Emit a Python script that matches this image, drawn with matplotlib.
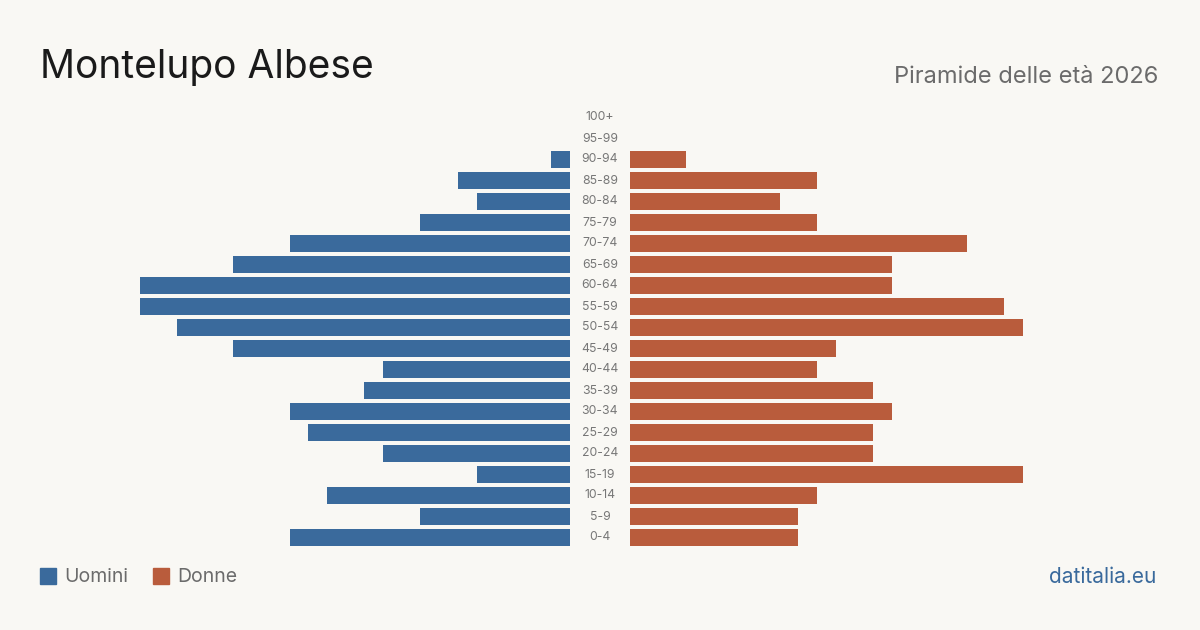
import matplotlib.pyplot as plt
from matplotlib.patches import Rectangle

plt.rcParams['font.family'] = ['Inter', 'DejaVu Sans']

age_groups = ["0-4", "5-9", "10-14", "15-19", "20-24", "25-29", "30-34", "35-39",
              "40-44", "45-49", "50-54", "55-59", "60-64", "65-69", "70-74",
              "75-79", "80-84", "85-89", "90-94", "95-99", "100+"]
uomini = [15, 8, 13, 5, 10, 14, 15, 11, 10, 18, 21, 23, 23, 18, 15, 8, 5, 6, 1, 0, 0]
donne = [9, 9, 10, 21, 13, 13, 14, 13, 10, 11, 21, 20, 14, 14, 18, 10, 8, 10, 3, 0, 0]

BG = "#f9f8f4"
BLUE = "#3a6a9c"
RED = "#b95c3c"

fig = plt.figure(figsize=(12, 6.3), dpi=100, facecolor=BG)

W, H = 1200, 630
vmax = 23
span = 430  # px per vmax
y_top, y_bot = 107, 548
bottom = (H - y_bot) / H
height = (y_bot - y_top) / H

ax_l = fig.add_axes([(570 - span) / W, bottom, span / W, height])
ax_r = fig.add_axes([630 / W, bottom, span / W, height])

pos = list(range(len(age_groups)))
ax_l.barh(pos, uomini, height=0.8, color=BLUE)
ax_r.barh(pos, donne, height=0.8, color=RED)
ax_l.set_xlim(vmax, 0)
ax_r.set_xlim(0, vmax)

for ax in (ax_l, ax_r):
    ax.set_ylim(-0.5, len(age_groups) - 0.5)
    ax.axis("off")

for p, lab in zip(pos, age_groups):
    ax_r.annotate(lab, xy=(0, p), xytext=(-30, 0), textcoords="offset pixels",
                  ha="center", va="center", fontsize=8.8, color="#777777")

fig.text(40 / W, 1 - 67 / H, "Montelupo Albese", fontsize=28, color="#1a1a1a",
         ha="left", va="center")
fig.text(1158 / W, 1 - 77 / H, "Piramide delle età 2026", fontsize=17,
         color="#6b6b6b", ha="right", va="center")

# legenda
fig.patches.append(Rectangle((40 / W, 1 - 584 / H), 16 / W, 16 / H,
                             transform=fig.transFigure, color=BLUE))
fig.text(64 / W, 1 - 577 / H, "Uomini", fontsize=14, color="#6b6b6b",
         ha="left", va="center")
fig.patches.append(Rectangle((153 / W, 1 - 584 / H), 16 / W, 16 / H,
                             transform=fig.transFigure, color=RED))
fig.text(177 / W, 1 - 577 / H, "Donne", fontsize=14, color="#6b6b6b",
         ha="left", va="center")

fig.text(1156 / W, 1 - 577 / H, "datitalia.eu", fontsize=15, color=BLUE,
         ha="right", va="center")

fig.savefig("out.png", dpi=100, facecolor=BG)
